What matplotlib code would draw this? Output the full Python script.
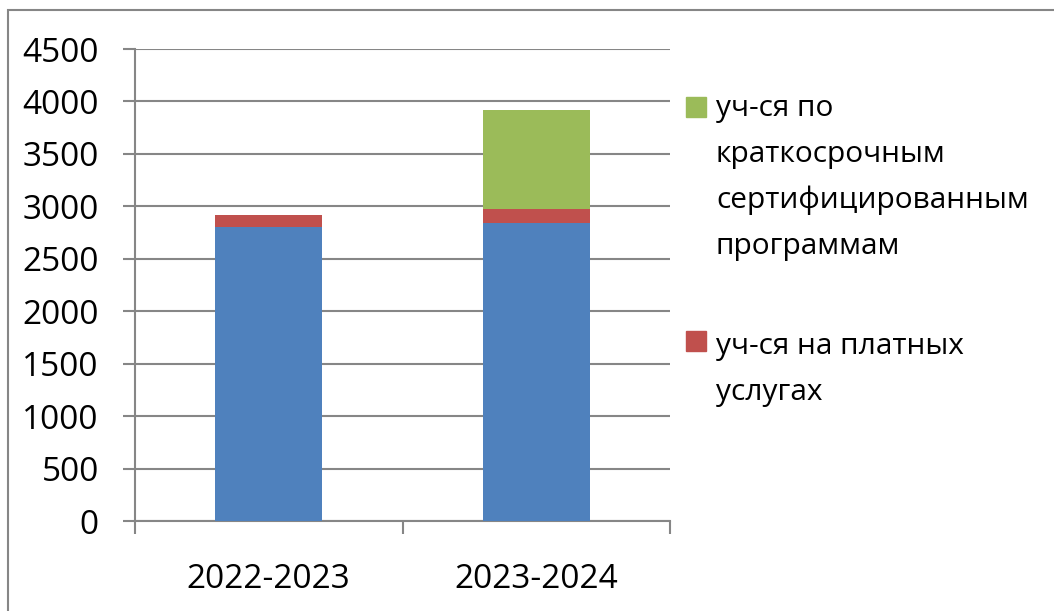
import matplotlib
matplotlib.use("Agg")
import matplotlib.pyplot as plt
from matplotlib.patches import Rectangle
import numpy as np

categories = ["2022-2023", "2023-2024"]
base_students = [2800, 2840]
paid_services = [115, 135]
short_programs = [0, 945]
legend_labels = ["уч-ся по\nкраткосрочным\nсертифицированным\nпрограммам",
                 "уч-ся на платных\nуслугах"]
yticks = list(range(0, 4501, 500))

BLUE = "#4F81BD"
RED = "#C0504D"
GREEN = "#9BBB59"
GRAY = "#868686"

plt.rcParams['font.family'] = ['Open Sans', 'DejaVu Sans']
W, H = 1054, 611
fig = plt.figure(figsize=(W / 100, H / 100), dpi=100)

# outer chart border
fig.patches.append(Rectangle((7.5 / W, -0.1), 1.2, 1 - 10 / H + 0.1,
                             transform=fig.transFigure, fill=False,
                             edgecolor=GRAY, linewidth=1.5))

ax = fig.add_axes([135 / W, 1 - 521 / H, (670 - 135) / W, (521 - 49) / H])
x = np.arange(len(categories))
bw = 0.40
b1 = np.array(base_students)
b2 = np.array(paid_services)
b3 = np.array(short_programs)
ax.bar(x, b1, bw, color=BLUE, zorder=3)
ax.bar(x, b2, bw, bottom=b1, color=RED, zorder=3)
ax.bar(x, b3, bw, bottom=b1 + b2, color=GREEN, zorder=3)

ax.set_xlim(-0.5, len(categories) - 0.5)
ax.set_ylim(0, 4500)
ax.set_yticks(yticks)
ax.set_yticklabels([str(v) for v in yticks], fontsize=24)
ax.yaxis.grid(True, color=GRAY, linewidth=1.5, zorder=0)
ax.set_axisbelow(True)

ax.set_xticks(x)
ax.set_xticklabels(categories, fontsize=24)
ax.set_xticks(np.arange(-0.5, len(categories), 1.0), minor=True)
ax.tick_params(axis='x', which='major', length=0, pad=30)
ax.tick_params(axis='x', which='minor', length=9, width=1.5, color=GRAY, direction='out')
ax.tick_params(axis='y', length=9, width=1.5, color=GRAY, direction='out', pad=17)

for s in ['top', 'right']:
    ax.spines[s].set_visible(False)
for s in ['left', 'bottom']:
    ax.spines[s].set_color(GRAY)
    ax.spines[s].set_linewidth(1.5)

# legend (manual)
entries = [(GREEN, legend_labels[0], 107, 116), (RED, legend_labels[1], 341, 354)]
line_step = 46
for col, lab, yc, base in entries:
    fig.patches.append(Rectangle((686 / W, 1 - (yc + 10) / H), 20 / W, 20 / H,
                                 transform=fig.transFigure, color=col))
    for i, line in enumerate(lab.split("\n")):
        fig.text(716 / W, 1 - (base + i * line_step) / H, line, fontsize=21.5,
                 va='baseline', ha='left')

fig.savefig("out.png", dpi=100)
